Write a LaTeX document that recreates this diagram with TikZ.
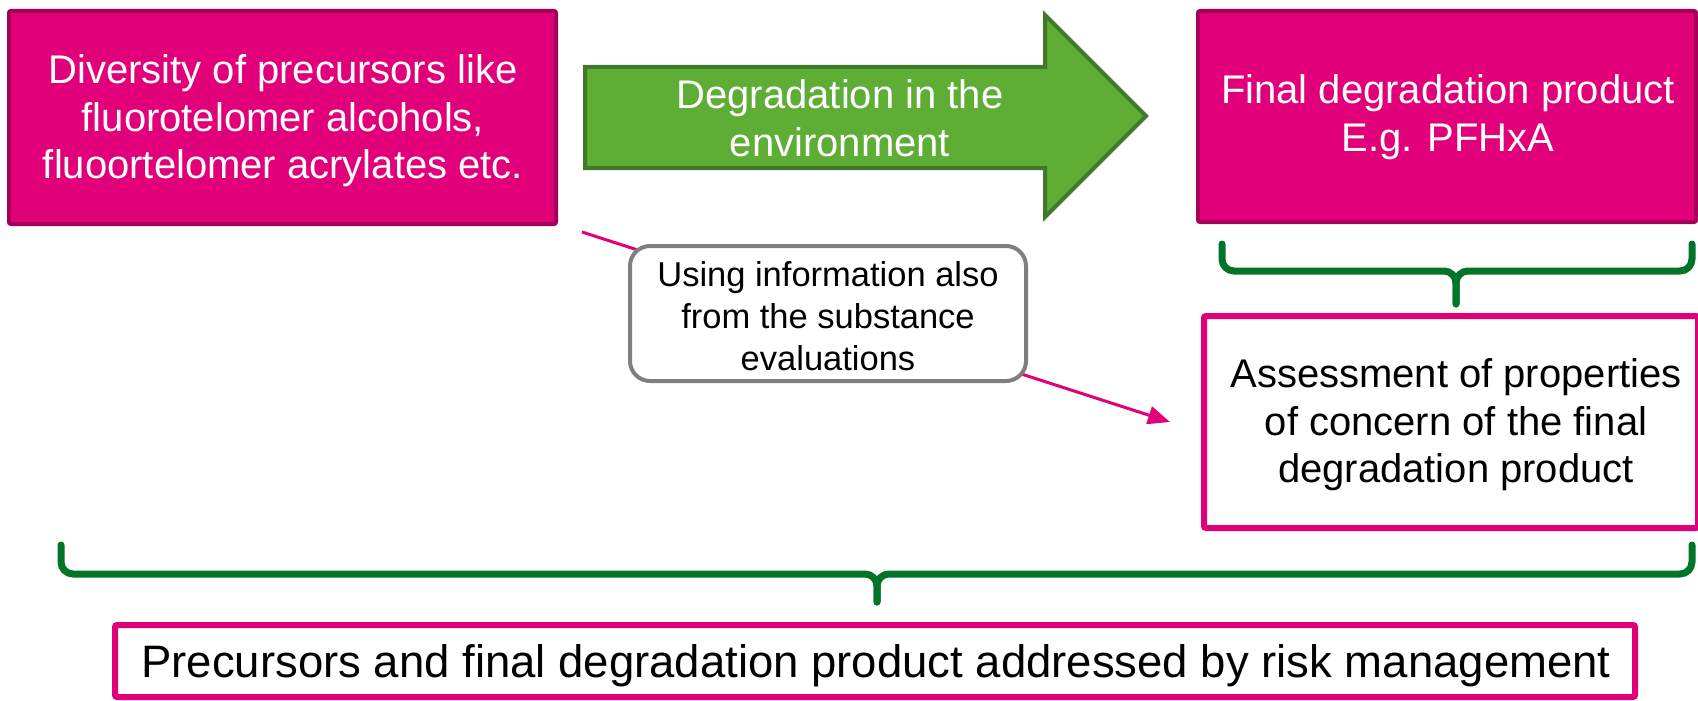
\documentclass[tikz,border=0pt]{standalone}
\usepackage{fontspec}
\setmainfont{Liberation Sans}
\usetikzlibrary{arrows.meta}
\definecolor{pfmag}{HTML}{E2007A}
\definecolor{pfmagdark}{HTML}{A50059}
\definecolor{pfgreen}{HTML}{5EAD35}
\definecolor{pfgreendark}{HTML}{41782A}
\definecolor{pfbrace}{HTML}{00752A}
\definecolor{pfgray}{HTML}{7F7F7F}
\tikzset{
  solidbox/.style={draw=pfmagdark, fill=pfmag, line width=4pt, rounded corners=2pt},
  openbox/.style={draw=pfmag, fill=white, line width=6pt, rounded corners=2pt},
  notebox/.style={draw=pfgray, fill=white, line width=4pt, rounded corners=20pt},
  txt/.style={align=center, inner sep=0pt, font=\fontsize{40}{47.5}\selectfont},
  wtxt/.style={txt, text=white},
  btxt/.style={txt, text=black},
  brace/.style={draw=pfbrace, line width=7pt, rounded corners=12pt, line cap=round},
  link/.style={draw=pfmag, line width=3pt, -{Triangle[length=22pt, width=18pt]}}
}
\begin{document}
\begin{tikzpicture}[x=1pt, y=-1pt]
\useasboundingbox (0,0) rectangle (1698,701);

% precursor box
\draw[solidbox] (9,11) rectangle (556,224);
\node[wtxt] (prec) at (283,121) {Diversity of precursors like\\fluorotelomer alcohols,\\fluoortelomer acrylates etc.};

% degradation arrow
\draw[draw=pfgreendark, fill=pfgreen, line width=4pt, line join=miter]
  (585,67) -- (1045,67) -- (1045,15) -- (1146,116) -- (1045,217) -- (1045,168) -- (585,168) -- cycle;
\node[wtxt] (degr) at (840,118) {Degradation in the\\environment};

% final product box
\draw[solidbox] (1198,11) rectangle (1696,222);
\node[wtxt] (final) at (1448,117) {Final degradation product\\E.g. PFHxA};

% small brace
\coordinate (sbL) at (1222,244);
\coordinate (sbR) at (1692,244);
\coordinate (sbT) at (1456,304);
\draw[brace] (sbL) -- (1222,271) -- (1456,271) -- (sbT);
\draw[brace] (sbR) -- (1692,271) -- (1456,271) -- (sbT);

% assessment box
\draw[openbox] (1204,316) rectangle (1698,528);
\node[btxt] (assess) at (1456,425) {Assessment of properties\\of concern of the final\\degradation product};

% information link, passing behind the note
\coordinate (linkA) at (582,232);
\coordinate (linkB) at (1170,422);
\draw[link] (linkA) -- (linkB);

% note box
\draw[notebox] (630,246) rectangle (1026,381);
\node[btxt, font=\fontsize{34.5}{42}\selectfont] (note) at (828,316) {Using information also\\from the substance\\evaluations};

% big brace
\coordinate (bbL) at (61,545);
\coordinate (bbR) at (1692,545);
\coordinate (bbT) at (877,602);
\draw[brace] (bbL) -- (61,574) -- (877,574) -- (bbT);
\draw[brace] (bbR) -- (1692,574) -- (877,574) -- (bbT);

% risk management box
\draw[openbox] (115,625) rectangle (1635,697);
\node[btxt, font=\fontsize{45.5}{54}\selectfont] (risk) at (876,666) {Precursors and final degradation product addressed by risk management};
\end{tikzpicture}
\end{document}
